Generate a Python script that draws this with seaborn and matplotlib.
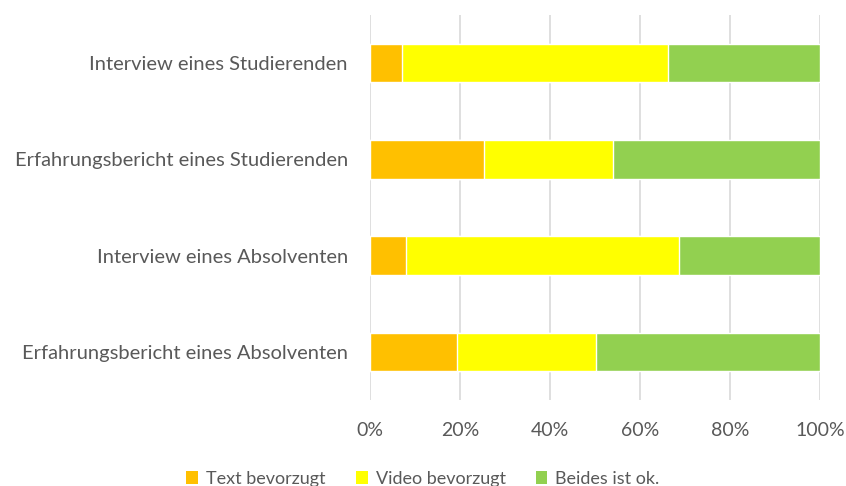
import matplotlib.pyplot as plt
import pandas as pd
import seaborn as sns
from matplotlib.patches import Patch
from matplotlib.ticker import PercentFormatter

categories = [
    "Interview eines Studierenden",
    "Erfahrungsbericht eines Studierenden",
    "Interview eines Absolventen",
    "Erfahrungsbericht eines Absolventen",
]
text_pref = [7.0, 25.4, 8.0, 19.4]
video_pref = [59.3, 28.7, 60.6, 30.8]
both_ok = [33.7, 45.9, 31.4, 49.8]

series_names = ["Text bevorzugt", "Video bevorzugt", "Beides ist ok."]
colors = ["#FFC000", "#FFFF00", "#92D050"]

df = pd.DataFrame({
    "Kategorie": categories,
    "Text bevorzugt": text_pref,
    "Video bevorzugt": video_pref,
    "Beides ist ok.": both_ok,
})
df["cum_text"] = df["Text bevorzugt"]
df["cum_video"] = df["cum_text"] + df["Video bevorzugt"]
df["cum_both"] = df["cum_video"] + df["Beides ist ok."]

sns.set_theme(style="white")
plt.rcParams["font.family"] = ["Lato", "DejaVu Sans"]
text_color = "#595959"

fig = plt.figure(figsize=(8.46, 4.86), dpi=100)
ax = fig.add_axes([370 / 846, 1 - 400 / 486, 450 / 846, 385 / 486])

# draw longest first so shorter segments sit on top
for col, color in zip(["cum_both", "cum_video", "cum_text"], colors[::-1]):
    sns.barplot(data=df, x=col, y="Kategorie", orient="h", color=color,
                width=0.4, saturation=1, ax=ax, zorder=3)

ax.set_xlim(0, 100)
ax.set_ylim(3.5, -0.5)
ax.set_xticks([0, 20, 40, 60, 80, 100])
ax.xaxis.set_major_formatter(PercentFormatter(decimals=0))
ax.grid(axis="x", color="#D9D9D9", linewidth=1.2, zorder=0)
ax.grid(axis="y", visible=False)
for side in ["top", "right", "bottom", "left"]:
    ax.spines[side].set_visible(False)
ax.set_xlabel("")
ax.set_ylabel("")
ax.tick_params(axis="x", length=0, pad=15.5, labelsize=14, colors=text_color)
ax.tick_params(axis="y", length=0, pad=16, labelsize=14.5, colors=text_color)

handles = [Patch(facecolor=c, edgecolor="none") for c in colors]
fig.legend(handles, series_names, loc="lower center", bbox_to_anchor=(0.5, -0.035),
           ncol=3, frameon=False, fontsize=13, labelcolor=text_color,
           handlelength=0.66, handleheight=0.66, handletextpad=0.44, columnspacing=1.66)

fig.savefig("out.png", dpi=100)
